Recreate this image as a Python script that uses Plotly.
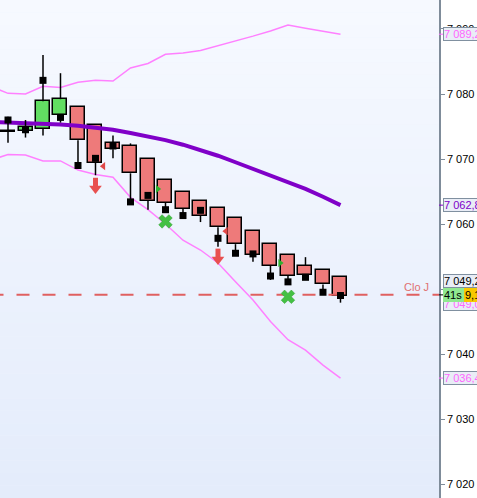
import plotly.graph_objects as go

# ---------------- data ----------------
idx = list(range(20))
opens  = [7074.2, 7074.3, 7074.6, 7076.7, 7078.0, 7075.3, 7072.4, 7072.0, 7070.0, 7066.7,
          7065.0, 7063.6, 7062.4, 7061.0, 7059.0, 7057.0, 7055.3, 7053.6, 7052.9, 7051.8]
highs  = [7076.5, 7076.0, 7086.0, 7083.2, 7078.0, 7075.3, 7073.6, 7072.4, 7070.0, 7066.7,
          7065.0, 7063.6, 7062.4, 7061.0, 7059.0, 7057.0, 7055.3, 7054.9, 7052.9, 7051.8]
lows   = [7072.5, 7073.3, 7073.6, 7075.6, 7069.0, 7067.5, 7070.1, 7063.4, 7062.2, 7062.2,
          7061.3, 7060.3, 7056.5, 7055.1, 7054.2, 7051.4, 7050.6, 7051.5, 7049.2, 7047.9]
closes = [7074.2, 7074.9, 7078.9, 7079.2, 7072.9, 7069.4, 7071.5, 7067.8, 7063.6, 7063.3,
          7062.3, 7061.3, 7059.5, 7056.9, 7055.2, 7053.6, 7052.0, 7052.1, 7050.7, 7049.0]
squares = [7076.0, 7074.5, 7082.1, 7076.4, 7069.0, 7070.1, 7072.0, 7063.4, 7064.4, 7062.2,
           7061.3, 7062.1, 7057.8, 7055.5, 7055.4, 7052.0, 7051.1, 7051.8, 7049.5, 7049.0]

band_idx = list(range(-1, 20))
ma_line  = [7075.7, 7075.6, 7075.5, 7075.5, 7075.3, 7075.1, 7074.8, 7074.5, 7074.0, 7073.5, 7072.9,
            7072.2, 7071.4, 7070.5, 7069.5, 7068.5, 7067.5, 7066.5, 7065.4, 7064.2, 7062.9]
upper    = [7081.2, 7080.1, 7080.0, 7081.2, 7081.0, 7081.8, 7082.1, 7082.0, 7084.0, 7084.7, 7086.1,
            7086.3, 7086.7, 7087.4, 7088.2, 7088.9, 7089.7, 7090.6, 7090.1, 7089.6, 7089.2]
lower    = [7069.8, 7070.7, 7070.6, 7069.7, 7069.7, 7068.3, 7067.6, 7067.2, 7064.1, 7062.2, 7060.0,
            7057.5, 7056.0, 7054.0, 7051.1, 7048.3, 7045.0, 7042.2, 7040.6, 7038.3, 7036.3]

sell_arrow_idx = [5, 12]
sell_arrow_val = [7065.8, 7054.9]
green_x_idx = [9, 16]
green_x_val = [7060.4, 7048.8]
red_tri_idx = [6, 13]
red_tri_val = [7068.9, 7058.9]
green_tri_idx = [8, 15]
green_tri_val = [7065.4, 7054.0]

close_j = 7049.1
tick_vals = [7020, 7030, 7040, 7050, 7060, 7070, 7080, 7090]

FONT = "Arial, Liberation Sans, sans-serif"

fig = go.Figure()

# background gradient (styling)
n_bands = 40
top_c = (246, 249, 255)
bot_c = (228, 236, 251)
for k in range(n_bands):
    t = k / (n_bands - 1)
    c = tuple(round(top_c[j] + (bot_c[j] - top_c[j]) * t) for j in range(3))
    fig.add_shape(type="rect", xref="paper", yref="paper", x0=0, x1=1,
                  y0=1 - (k + 1) / n_bands, y1=1 - k / n_bands,
                  fillcolor="rgb(%d,%d,%d)" % c, line=dict(width=0), layer="below")

# bands
fig.add_trace(go.Scatter(x=band_idx, y=upper, mode="lines",
                         line=dict(color="#FF80FF", width=1.5), hoverinfo="skip"))
fig.add_trace(go.Scatter(x=band_idx, y=lower, mode="lines",
                         line=dict(color="#FF80FF", width=1.5), hoverinfo="skip"))

# Clo J line
fig.add_trace(go.Scatter(x=[-1, 25], y=[close_j, close_j], mode="lines",
                         line=dict(color="#E06060", width=2, dash="13px,13px"), hoverinfo="skip"))

# MA line
fig.add_trace(go.Scatter(x=band_idx, y=ma_line, mode="lines",
                         line=dict(color="#8000C8", width=4), hoverinfo="skip"))

# wicks (upper and lower parts, so they don't cross the bodies)
wx, wy = [], []
for i, o, h, l, c in zip(idx, opens, highs, lows, closes):
    top, bot = max(o, c), min(o, c)
    if h > top:
        wx += [i, i, None]
        wy += [top, h, None]
    if l < bot:
        wx += [i, i, None]
        wy += [l, bot, None]
fig.add_trace(go.Scatter(x=wx, y=wy, mode="lines", line=dict(color="black", width=1.5),
                         hoverinfo="skip"))

# bodies
base = [min(o, c) for o, c in zip(opens, closes)]
height = [max(abs(c - o), 0.12) for o, c in zip(opens, closes)]
colors = []
for o, c in zip(opens, closes):
    if c > o:
        colors.append("#62DE62")
    elif c < o:
        colors.append("#EE7A7A")
    else:
        colors.append("black")
fig.add_trace(go.Bar(x=idx, y=height, base=base, width=0.8,
                     marker=dict(color=colors, line=dict(color="black", width=1.5)),
                     hoverinfo="skip"))

# black square markers
fig.add_trace(go.Scatter(x=idx, y=squares, mode="markers",
                         marker=dict(symbol="square", size=7, color="black"), hoverinfo="skip"))

# signals: block arrow = shaft + head
fig.add_trace(go.Scatter(x=sell_arrow_idx, y=[v + 0.45 for v in sell_arrow_val], mode="markers",
                         marker=dict(symbol="line-ns", size=8,
                                     line=dict(color="#E85050", width=5)), hoverinfo="skip"))
fig.add_trace(go.Scatter(x=sell_arrow_idx, y=[v - 0.35 for v in sell_arrow_val], mode="markers",
                         marker=dict(symbol="triangle-down", size=11, color="#E85050",
                                     line=dict(width=0)), hoverinfo="skip"))
fig.add_trace(go.Scatter(x=green_x_idx, y=green_x_val, mode="markers",
                         marker=dict(symbol="x", size=12, color="#44C044",
                                     line=dict(color="#30A030", width=0.5)), hoverinfo="skip"))
fig.add_trace(go.Scatter(x=[i - 0.55 for i in red_tri_idx], y=red_tri_val, mode="markers",
                         marker=dict(symbol="triangle-left", size=7, color="#E04848"), hoverinfo="skip"))
fig.add_trace(go.Scatter(x=[i + 0.55 for i in green_tri_idx], y=green_tri_val, mode="markers",
                         marker=dict(symbol="triangle-right", size=7, color="#30B030"), hoverinfo="skip"))

# annotations
fig.add_annotation(x=1, xref="paper", y=close_j, yref="y", text="Clo J", showarrow=False,
                   xanchor="right", yanchor="bottom", xshift=-8, yshift=0,
                   font=dict(family=FONT, size=11, color="#E07070"))


def axis_box(val, text, color, bg="#E9EDF6", border="#8090A0", yshift=0, xshift=4, width=44):
    fig.add_annotation(x=1, xref="paper", y=val, yref="y", text=text, showarrow=False,
                       xanchor="left", yanchor="middle", xshift=xshift, yshift=yshift,
                       align="left", width=width,
                       font=dict(family=FONT, size=11, color=color),
                       bgcolor=bg, bordercolor=border, borderwidth=1, borderpad=0)


axis_box(upper[-1], "7 089,2", "#FF66FF")
axis_box(ma_line[-1], "7 062,8", "#8000C8")
axis_box(lower[-1], "7 036,4", "#FF66FF")
axis_box(close_j, "7 049,0", "#FF66FF", yshift=-9)
axis_box(close_j, "7 049,2", "black", yshift=14)
axis_box(close_j, "41s", "black", bg="#90E890", border="#90E890", width=20)
axis_box(close_j, "9,1", "black", bg="#F8C800", border="#F8C800", xshift=25, width=14)

# coloured ticks for the boxes
for val, col in [(upper[-1], "#FF66FF"), (ma_line[-1], "#8000C8"), (lower[-1], "#FF66FF"), (close_j, "black")]:
    fig.add_shape(type="line", xref="paper", yref="y", x0=1, x1=1.01, y0=val, y1=val,
                  line=dict(color=col, width=1))

fig.update_layout(
    width=477, height=498,
    margin=dict(l=0, r=38, t=0, b=0, autoexpand=False),
    paper_bgcolor="white",
    plot_bgcolor="#EEF2FC",
    showlegend=False,
    separators=", ",
    bargap=0,
    font=dict(family=FONT, size=11, color="black"),
    xaxis=dict(range=[-0.457, 24.63], visible=False, fixedrange=True),
    yaxis=dict(range=[7017.85, 7094.46], side="right", showgrid=False, zeroline=False,
               showline=True, linecolor="#7F8C9A", linewidth=1.5,
               ticks="outside", ticklen=4, tickcolor="#7F8C9A",
               tickvals=tick_vals, tickformat=",d", automargin=False,
               tickfont=dict(family=FONT, size=11, color="black")),
)

fig.write_html("out.html", config={"displayModeBar": False})

# remove the browser's default page margin so the figure sits at the top-left corner
with open("out.html", "r", encoding="utf-8") as f:
    html = f.read()
html = html.replace("<head>", "<head><style>html,body{margin:0;padding:0;overflow:hidden}</style>", 1)
with open("out.html", "w", encoding="utf-8") as f:
    f.write(html)
